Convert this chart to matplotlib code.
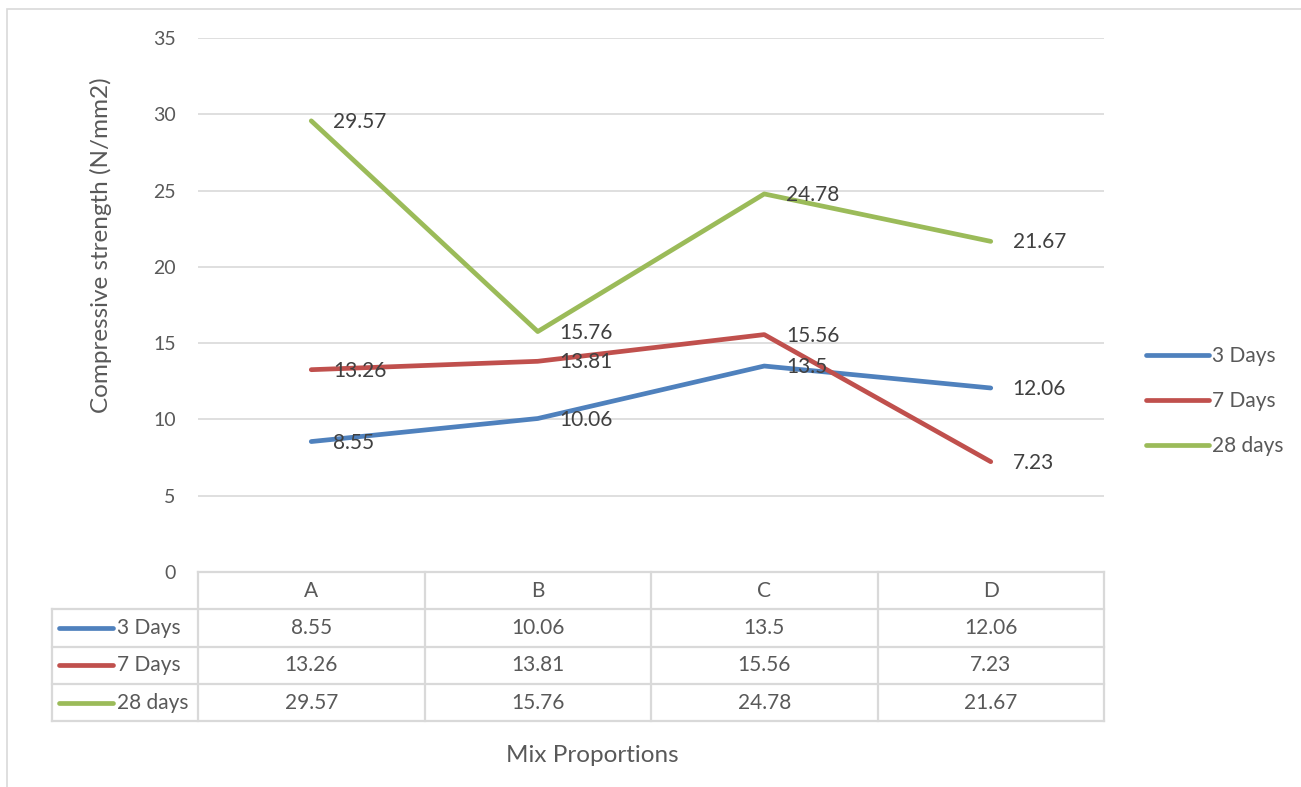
import matplotlib
matplotlib.use("Agg")
import matplotlib.pyplot as plt
from matplotlib.patches import Rectangle
from matplotlib.transforms import blended_transform_factory

mixes = ["A", "B", "C", "D"]
series_names = ["3 Days", "7 Days", "28 days"]
days3 = [8.55, 10.06, 13.5, 12.06]
days7 = [13.26, 13.81, 15.56, 7.23]
days28 = [29.57, 15.76, 24.78, 21.67]
yticks = [0, 5, 10, 15, 20, 25, 30, 35]

series = [days3, days7, days28]
colors = ["#4F81BD", "#C0504D", "#9BBB59"]
txt = "#595959"
grid = "#D9D9D9"

plt.rcParams['font.family'] = ['Lato', 'DejaVu Sans']

W, H = 1301, 787
fig = plt.figure(figsize=(W / 100, H / 100), dpi=100)
ax = fig.add_axes([198 / W, 1 - 572 / H, 906 / W, 534 / H])

x = list(range(len(mixes)))
for vals, c, name in zip(series, colors, series_names):
    ax.plot(x, vals, color=c, lw=3.4, solid_capstyle='round', label=name)
    for xi, v in zip(x, vals):
        ax.annotate(f"{v:g}", (xi, v), xytext=(22, -1), textcoords='offset pixels',
                    ha='left', va='center', fontsize=15, color='#404040')

ax.set_xlim(-0.5, 3.5)
ax.set_ylim(0, 35)
ax.set_yticks(yticks)
ax.set_xticks([])
ax.tick_params(axis='y', length=0, pad=16, labelsize=14, labelcolor=txt)
ax.yaxis.grid(True, color=grid, lw=1.2)
ax.set_axisbelow(True)
for s in ax.spines.values():
    s.set_visible(False)

fig.text(101 / W, 1 - 245 / H, "Compressive strength (N/mm2)", rotation=90,
         ha='center', va='center', fontsize=17.5, color=txt)

# data table under the plot
tr = blended_transform_factory(ax.transData, ax.transAxes)
row_h = 37.3 / 534
px = 1 / 226.5  # one pixel in category units
x_left = -0.5 - (198 - 52) * px
lc = "#D9D9D9"
ax.plot([-0.5, 3.5], [0, 0], color=lc, lw=1.6, transform=tr, clip_on=False)
for i in range(5):
    xv = -0.5 + i
    ax.plot([xv, xv], [0, -4 * row_h], color=lc, lw=1.6, transform=tr, clip_on=False)
ax.plot([x_left, x_left], [-row_h, -4 * row_h], color=lc, lw=1.6, transform=tr, clip_on=False)
for r in range(1, 5):
    ax.plot([x_left, 3.5], [-r * row_h, -r * row_h], color=lc, lw=1.6, transform=tr, clip_on=False)
for xi, m in zip(x, mixes):
    ax.text(xi, -0.5 * row_h, m, transform=tr, ha='center', va='center', fontsize=15, color=txt)
for r, (vals, c, name) in enumerate(zip(series, colors, series_names)):
    yc = -(r + 1.5) * row_h
    l0 = -0.5 - (198 - 59) * px
    l1 = -0.5 - (198 - 113) * px
    ax.plot([l0, l1], [yc, yc], color=c, lw=3.4, solid_capstyle='round', transform=tr, clip_on=False)
    ax.text(l1 + 4 * px, yc, name, transform=tr, ha='left', va='center', fontsize=15, color=txt)
    for xi, v in zip(x, vals):
        ax.text(xi, yc, f"{v:g}", transform=tr, ha='center', va='center', fontsize=15, color=txt)

fig.text(592 / W, 1 - 756 / H, "Mix Proportions", ha='center', va='center', fontsize=17.5, color=txt)

leg = ax.legend(loc='center left', bbox_to_anchor=(1136 / W, 1 - 401 / H),
                bbox_transform=fig.transFigure, frameon=False, fontsize=15,
                handlelength=3.0, handletextpad=0.15, labelspacing=1.2, borderpad=0)
for t in leg.get_texts():
    t.set_color(txt)

fig.patches.append(Rectangle((7, -30), W, H - 9 + 30, transform=None, fill=False,
                             edgecolor="#D9D9D9", lw=1.2, figure=fig))

fig.savefig("out.png", dpi=100, facecolor='white')
